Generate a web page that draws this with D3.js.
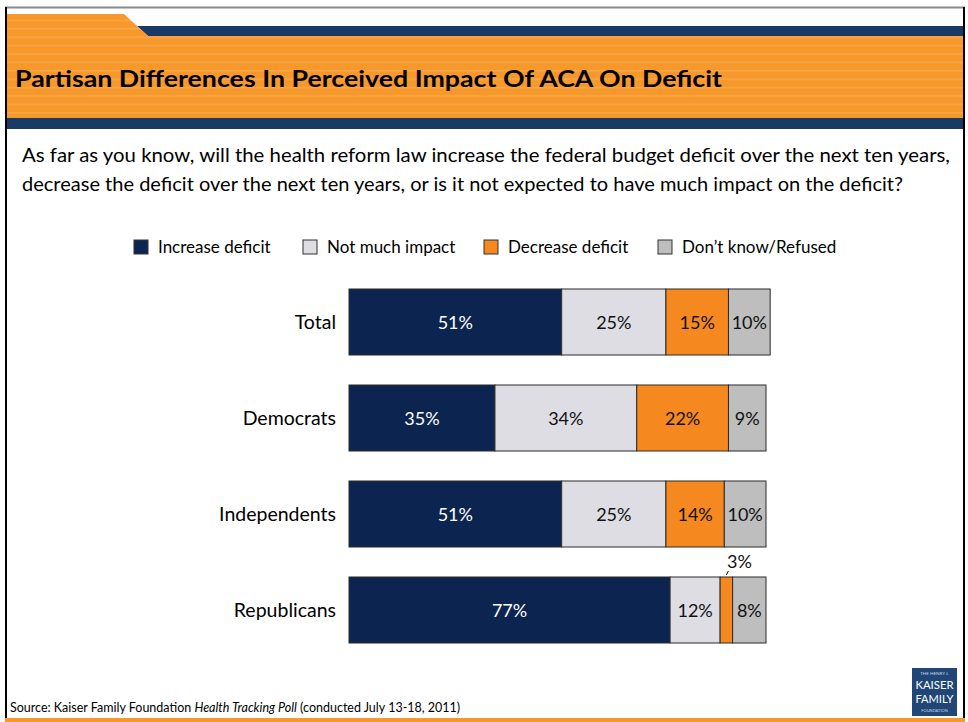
<!DOCTYPE html>
<html>
<head>
<meta charset="utf-8">
<script src="https://cdn.jsdelivr.net/npm/d3@7"></script>
<style>
  html, body { margin: 0; padding: 0; background: #fff; }
  svg { display: block; }
  text { font-family: Lato, "Open Sans", sans-serif; }
</style>
</head>
<body>
<svg id="chart" width="968" height="722"></svg>
<script>
// Survey groups and response shares (percent)
const groups = ["Total", "Democrats", "Independents", "Republicans"];
const responses = ["Increase deficit", "Not much impact", "Decrease deficit", "Don\u2019t know/Refused"];
const increaseDeficit = [51, 35, 51, 77];
const notMuchImpact   = [25, 34, 25, 12];
const decreaseDeficit = [15, 22, 14, 3];
const dontKnow        = [10, 9, 10, 8];

const colors = ["#0B2550", "#DDDDE3", "#F5891F", "#BEBEBE"];
const labelColors = ["#ffffff", "#111111", "#111111", "#111111"];

const svg = d3.select("#chart");
const W = 968, H = 722;

// ---- slide frame and header ----
const defs = svg.append("defs");
const pat = defs.append("pattern")
  .attr("id", "stripes").attr("patternUnits", "userSpaceOnUse")
  .attr("width", 10).attr("height", 8.4);
pat.append("rect").attr("width", 10).attr("height", 8.4).attr("fill", "#F7982B");
pat.append("rect").attr("y", 3).attr("width", 10).attr("height", 1.2).attr("fill", "#F9AA52");

svg.append("rect").attr("x", 0).attr("y", 0).attr("width", W).attr("height", H).attr("fill", "#fff");

// navy strip beside the tab
svg.append("path")
  .attr("d", "M137,26 L963,26 L963,36 L148,36 Z")
  .attr("fill", "#183A64");
// orange tab + main band
svg.append("path")
  .attr("d", "M7,14 L124,14 L148,36 L963,36 L963,118 L7,118 Z")
  .attr("fill", "url(#stripes)");
// navy strip under the band
svg.append("rect").attr("x", 7).attr("y", 118).attr("width", 956).attr("height", 11).attr("fill", "#183A64");

// frame lines
svg.append("line").attr("x1", 5).attr("x2", 965).attr("y1", 7.5).attr("y2", 7.5)
  .attr("stroke", "#8a8a8a").attr("stroke-width", 2);
svg.append("line").attr("x1", 6).attr("x2", 6).attr("y1", 7).attr("y2", 722)
  .attr("stroke", "#000").attr("stroke-width", 2);
svg.append("line").attr("x1", 964).attr("x2", 964).attr("y1", 7).attr("y2", 722)
  .attr("stroke", "#000").attr("stroke-width", 2);
svg.append("rect").attr("x", 5).attr("y", 718).attr("width", 960).attr("height", 4).attr("fill", "#F7982B");

// title
svg.append("text")
  .attr("x", 15).attr("y", 87)
  .attr("font-size", 22).attr("font-weight", "bold").attr("fill", "#000")
  .attr("textLength", 707).attr("lengthAdjust", "spacingAndGlyphs")
  .text("Partisan Differences In Perceived Impact Of ACA On Deficit");

// question
const q = [
  "As far as you know, will the health reform law increase the federal budget deficit over the next ten years,",
  "decrease the deficit over the next ten years, or is it not expected to have much impact on the deficit?"
];
const qWidths = [928, 881];
svg.selectAll("text.q").data(q).join("text")
  .attr("class", "q")
  .attr("x", 22).attr("y", (d, i) => 162 + i * 29)
  .attr("font-size", 19).attr("fill", "#000")
  .attr("textLength", (d, i) => qWidths[i]).attr("lengthAdjust", "spacingAndGlyphs")
  .text(d => d);

// ---- legend ----
const legendX = [134, 303, 484, 658];
const lg = svg.append("g").selectAll("g").data(responses).join("g")
  .attr("transform", (d, i) => `translate(${legendX[i]},240)`);
lg.append("rect").attr("width", 14).attr("height", 14)
  .attr("fill", (d, i) => colors[i]).attr("stroke", "#333").attr("stroke-width", 1);
lg.append("text").attr("x", 24).attr("y", 13)
  .attr("font-size", 17).attr("fill", "#000").text(d => d);

// ---- stacked bars ----
const series = [increaseDeficit, notMuchImpact, decreaseDeficit, dontKnow];
const rows = groups.map((g, i) => {
  const r = { group: g };
  responses.forEach((k, j) => r[k] = series[j][i]);
  return r;
});
const stack = d3.stack().keys(responses)(rows);

const x = d3.scaleLinear().domain([0, 100]).range([349, 766]);
// bars 66 px tall with 30 px gaps
const y = d3.scaleBand().domain(groups).range([289, 289 + 96 * 4 - 30]).paddingInner(30 / 96);

const layers = svg.append("g").selectAll("g").data(stack).join("g")
  .attr("fill", (d, i) => colors[i]);

layers.selectAll("rect").data(d => d).join("rect")
  .attr("x", d => x(d[0]))
  .attr("y", d => y(d.data.group))
  .attr("width", d => x(d[1]) - x(d[0]))
  .attr("height", y.bandwidth())
  .attr("stroke", "#2b2b2b").attr("stroke-width", 1);

// value labels; thin segments get their label above the bar
layers.each(function (layer, li) {
  const g = d3.select(this);
  g.selectAll("text").data(layer).join("text")
    .attr("x", d => (x(d[0]) + x(d[1])) / 2)
    .attr("y", d => {
      const v = d[1] - d[0];
      return v < 5 ? y(d.data.group) - 9 : y(d.data.group) + y.bandwidth() / 2 + 7;
    })
    .attr("dx", d => (d[1] - d[0]) < 5 ? 13 : 0)
    .attr("text-anchor", "middle")
    .attr("font-size", 18)
    .attr("fill", d => (d[1] - d[0]) < 5 ? "#111" : labelColors[li])
    .text(d => (d[1] - d[0]) + "%");

  g.selectAll("line").data(layer.filter(d => (d[1] - d[0]) < 5)).join("line")
    .attr("x1", d => (x(d[0]) + x(d[1])) / 2)
    .attr("y1", d => y(d.data.group) - 2)
    .attr("x2", d => (x(d[0]) + x(d[1])) / 2 + 2)
    .attr("y2", d => y(d.data.group) - 6)
    .attr("stroke", "#111").attr("stroke-width", 1);
});

// group labels
svg.append("g").selectAll("text").data(groups).join("text")
  .attr("x", 336)
  .attr("y", d => y(d) + y.bandwidth() / 2 + 7)
  .attr("text-anchor", "end")
  .attr("font-size", 19.5).attr("fill", "#000")
  .text(d => d);

// ---- footer ----
const src = svg.append("text").attr("x", 10).attr("y", 712)
  .attr("font-size", 12.5).attr("fill", "#000");
src.append("tspan").text("Source: Kaiser Family Foundation ");
src.append("tspan").attr("font-style", "italic").text("Health Tracking Poll");
src.append("tspan").text(" (conducted July 13-18, 2011)");

// foundation mark
const logo = svg.append("g").attr("transform", "translate(912,668)");
logo.append("rect").attr("width", 45).attr("height", 48).attr("fill", "#1F4677");
logo.append("text").attr("x", 22.5).attr("y", 7).attr("text-anchor", "middle")
  .attr("font-size", 4.5).attr("fill", "#cfd8e6").text("THE HENRY J.");
logo.append("text").attr("x", 22.5).attr("y", 21).attr("text-anchor", "middle")
  .attr("font-family", "'Liberation Serif', serif").attr("font-size", 11).attr("fill", "#fff")
  .attr("textLength", 38).attr("lengthAdjust", "spacingAndGlyphs").text("KAISER");
logo.append("text").attr("x", 22.5).attr("y", 35).attr("text-anchor", "middle")
  .attr("font-family", "'Liberation Serif', serif").attr("font-size", 11).attr("fill", "#fff")
  .attr("textLength", 38).attr("lengthAdjust", "spacingAndGlyphs").text("FAMILY");
logo.append("text").attr("x", 22.5).attr("y", 44).attr("text-anchor", "middle")
  .attr("font-size", 4).attr("fill", "#cfd8e6").text("FOUNDATION");
</script>
</body>
</html>
